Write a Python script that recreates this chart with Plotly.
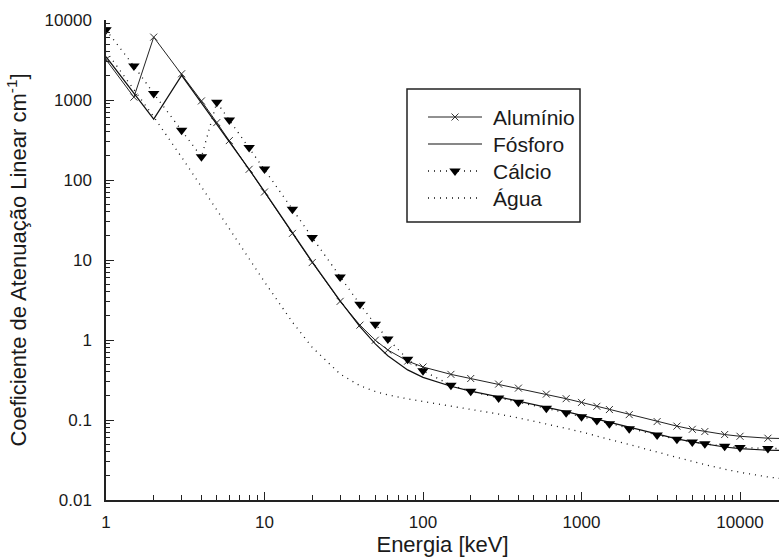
import plotly.graph_objects as go

# Photon energies (keV)
energia = [1, 1.5, 2, 3, 4, 5, 6, 8, 10, 15, 20, 30, 40, 50, 60, 80, 100,
           150, 200, 300, 400, 600, 800, 1000, 1250, 1500, 2000, 3000,
           4000, 5000, 6000, 8000, 10000, 15000, 20000]

# Linear attenuation coefficients (cm^-1)
aluminio = [3198, 1086, 6108, 2127, 973, 522, 311, 136, 70.8, 21.5, 9.29,
            3.04, 1.534, 0.9935, 0.7498, 0.5447, 0.4599, 0.3719, 0.3301,
            0.2812, 0.2504, 0.2106, 0.1846, 0.1659, 0.1483, 0.1351, 0.1167,
            0.0956, 0.0838, 0.0765, 0.0717, 0.0658, 0.0626, 0.0592, 0.0585]

fosforo = [3480, 1236, 577, 2035, 930, 502, 304, 136, 71.5, 22.0, 9.5,
           3.09, 1.47, 0.895, 0.636, 0.423, 0.341, 0.264, 0.230, 0.195,
           0.1726, 0.145, 0.127, 0.114, 0.102, 0.093, 0.0804, 0.066,
           0.058, 0.0532, 0.0499, 0.046, 0.0439, 0.0419, 0.0416]

calcio = [7544, 2657, 1205, 420, 195, 934, 562, 255, 137, 43.2, 19.1,
          6.13, 2.79, 1.575, 1.03, 0.576, 0.412, 0.272, 0.228, 0.189,
          0.167, 0.140, 0.123, 0.110, 0.0988, 0.090, 0.078, 0.0649,
          0.0576, 0.0532, 0.0504, 0.0471, 0.0454, 0.044, 0.044]

agua = [4078, 1376, 617.3, 192.9, 82.78, 42.58, 24.64, 10.37, 5.329, 1.673,
        0.8096, 0.3756, 0.2683, 0.2269, 0.2059, 0.1837, 0.1707, 0.1505,
        0.1370, 0.1186, 0.1061, 0.08956, 0.07865, 0.07072, 0.06323,
        0.05754, 0.04942, 0.03969, 0.03403, 0.03031, 0.02770, 0.02429,
        0.02219, 0.01941, 0.01813]

y_ticks = [0.01, 0.1, 1, 10, 100, 1000, 10000]
x_ticks = [1, 10, 100, 1000, 10000]

FONT = "Liberation Sans, Arial, sans-serif"
INK = "#1a1a1a"

# Style per series: (name, values, line style, marker style)
SOLID = dict(color="#222", width=1)
DOTTED = dict(color="#111", width=1.3, dash="1px,5px")
MARK_X = dict(symbol="x-thin", size=7, line=dict(width=1, color="#333"), color="#333")
MARK_TRI = dict(symbol="triangle-down", size=10, color="#000")

series = [
    ("Alumínio", aluminio, SOLID, MARK_X),
    ("Fósforo", fosforo, dict(color="#111", width=1.2), None),
    ("Cálcio", calcio, DOTTED, MARK_TRI),
    ("Água", agua, DOTTED, None),
]

fig = go.Figure()

for name, vals, line, marker in series:
    fig.add_trace(go.Scatter(
        x=energia, y=vals, name=name,
        mode="lines+markers" if marker else "lines",
        line=line, marker=marker, showlegend=False,
    ))

# Boxed key drawn on an overlay axis spanning the plot area in [0, 1]
def px_x(p):
    return (p - 106) / 673.0

def px_y(p):
    return (500 - p) / 480.0

key_rows = [117, 144, 171, 198]
for (name, _, line, marker), row in zip(series, key_rows):
    yk = px_y(row)
    fig.add_trace(go.Scatter(
        x=[px_x(428), px_x(482)], y=[yk, yk], xaxis="x2", yaxis="y2",
        mode="lines", line=line, showlegend=False, hoverinfo="skip",
    ))
    if marker:
        fig.add_trace(go.Scatter(
            x=[px_x(455)], y=[yk], xaxis="x2", yaxis="y2",
            mode="markers", marker=marker, showlegend=False, hoverinfo="skip",
        ))
    fig.add_annotation(
        x=px_x(491), y=yk, xref="x2", yref="y2", text=name, showarrow=False,
        xanchor="left", yanchor="middle",
        font=dict(size=21, family=FONT, color=INK),
    )

fig.add_shape(
    type="rect", xref="x2", yref="y2",
    x0=px_x(407), x1=px_x(580), y0=px_y(89), y1=px_y(222),
    line=dict(color="#222", width=1.5), fillcolor="rgba(0,0,0,0)",
)

fig.update_layout(
    width=779, height=559,
    margin=dict(l=106, r=0, t=20, b=59),
    paper_bgcolor="white", plot_bgcolor="white",
    font=dict(family=FONT, color=INK),
    showlegend=False,
    xaxis=dict(
        type="log", range=[0, 4.246],
        tickvals=x_ticks, ticktext=[str(v) for v in x_ticks],
        ticks="inside", ticklen=8, tickwidth=1.2, tickcolor="#222",
        minor=dict(ticks="inside", ticklen=5, tickwidth=1, tickcolor="#222",
                   dtick="D1", showgrid=False),
        showline=True, linecolor="#222", linewidth=1.5,
        showgrid=False, zeroline=False,
        tickfont=dict(size=17, family=FONT, color=INK),
        ticklabelstandoff=6,
        title=dict(text="Energia [keV]", font=dict(size=22, family=FONT, color=INK),
                   standoff=5),
    ),
    yaxis=dict(
        type="log", range=[-2, 4],
        tickvals=y_ticks, ticktext=[f"{v:g}" for v in y_ticks],
        ticks="inside", ticklen=8, tickwidth=1.2, tickcolor="#222",
        minor=dict(ticks="inside", ticklen=4, tickwidth=1, tickcolor="#222",
                   dtick="D1", showgrid=False),
        showline=True, linecolor="#222", linewidth=1.5,
        showgrid=False, zeroline=False,
        tickfont=dict(size=17, family=FONT, color=INK),
        ticklabelstandoff=9,
        title=dict(text="Coeficiente de Atenuação Linear cm<sup>-1</sup>]",
                   font=dict(size=22, family=FONT, color=INK), standoff=12),
    ),
    xaxis2=dict(overlaying="x", range=[0, 1], visible=False, fixedrange=True),
    yaxis2=dict(overlaying="y", range=[0, 1], visible=False, fixedrange=True),
)

fig.write_html("out.html")
